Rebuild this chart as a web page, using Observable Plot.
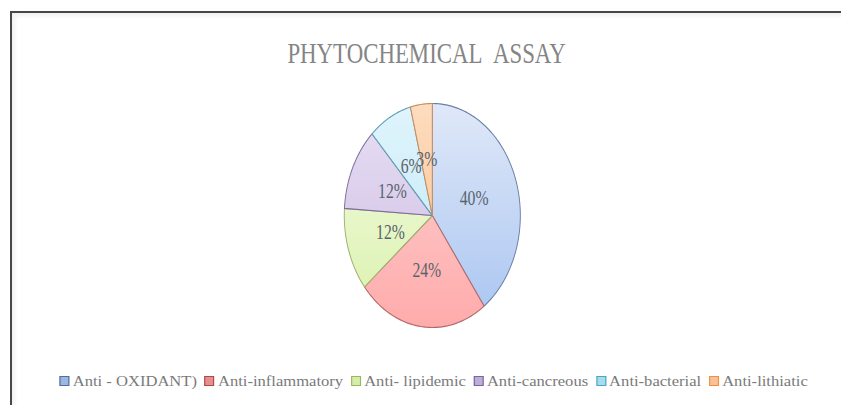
<!DOCTYPE html>
<html>
<head>
<meta charset="utf-8">
<script src="https://cdn.jsdelivr.net/npm/d3@7"></script>
<script src="https://cdn.jsdelivr.net/npm/@observablehq/plot@0.6"></script>
<style>
  html, body { margin: 0; padding: 0; background: #fff; }
  #frame { position: relative; width: 841px; height: 405px; overflow: hidden; background: #fff; }
  #border { position: absolute; left: 10px; top: 11px; width: 840px; height: 400px;
            border-top: 2px solid #474747; border-left: 2px solid #474747;
            box-shadow: inset 3px 3px 4px rgba(0,0,0,0.06); }
  #wrap { position: absolute; left: 0; top: 0; width: 1070px; height: 405px;
          transform: scaleX(0.786); transform-origin: 0 0; }
  #wrap svg { position: absolute; left: 0; top: 0; }
  #title { position: absolute; top: 38px; left: 0; width: 1086px; text-align: center;
           font-family: "Liberation Serif", serif; font-size: 30px; line-height: 30px; color: #858585; }
  #title span { display: inline-block; transform-origin: 50% 50%; word-spacing: 9px; }
  #legend { position: absolute; top: 372px; left: 0; width: 1104px; text-align: center; }
  #legend .inner { display: inline-flex; align-items: center; gap: 7px; transform-origin: 50% 50%;
                   font-family: "Liberation Serif", serif; font-size: 15px; line-height: 16px; color: #7a7a7a; white-space: nowrap; }
  #legend .item { display: inline-flex; align-items: center; gap: 3px; }
  #legend .sw { display: inline-block; width: 7px; height: 8px; border: 1.5px solid; }
</style>
</head>
<body>
<div id="frame">
  <div id="border"></div>
  <div id="wrap">
    <div id="title"><span>PHYTOCHEMICAL ASSAY</span></div>
    <div id="legend"><div class="inner"></div></div>
  </div>
</div>
<script>
// ---- data ----
const categories = ["Anti - OXIDANT)", "Anti-inflammatory", "Anti- lipidemic", "Anti-cancreous", "Anti-bacterial", "Anti-lithiatic"];
const shares = [40, 24, 12, 12, 8, 4];
const labels = ["40%", "24%", "12%", "12%", "6%", "3%"];

// ---- styles ----
const topColors    = ["#dfe8f8", "#fdd3d3", "#f4fae2", "#e8dff3", "#e0f4fb", "#fddcbf"];
const bottomColors = ["#a9c5f1", "#ffabab", "#daf2ad", "#cbbbe4", "#bce7f7", "#fbbd8b"];
const strokeColors = ["#6a7fa6", "#b36a6a", "#9fb06e", "#7f6c9c", "#5fa3b8", "#c98c58"];
const swatchFill   = ["#9db8df", "#e58f8f", "#d6ecaa", "#bcaed8", "#a7dcee", "#f8c196"];
const swatchStroke = ["#4f6f9f", "#b04a48", "#9ab85a", "#7c64a0", "#48a8c4", "#f09040"];

const cx = 549.5, cy = 215, r = 112;
const W = 1070, H = 405;

// ---- slices ----
const total = d3.sum(shares);
const slices = [];
let acc = 0;
categories.forEach((c, i) => {
  const a0 = acc / total * 2 * Math.PI;
  acc += shares[i];
  const a1 = acc / total * 2 * Math.PI;
  slices.push({cat: c, i, a0, a1, mid: (a0 + a1) / 2, label: labels[i]});
});

// outline points of each wedge (center -> arc -> center)
const pts = [];
for (const s of slices) {
  pts.push({cat: s.cat, i: s.i, x: 0, y: 0});
  const n = Math.max(2, Math.ceil((s.a1 - s.a0) / (Math.PI / 180)));
  for (let k = 0; k <= n; k++) {
    const a = s.a0 + (s.a1 - s.a0) * k / n;
    pts.push({cat: s.cat, i: s.i, x: Math.sin(a), y: Math.cos(a)});
  }
  pts.push({cat: s.cat, i: s.i, x: 0, y: 0});
}

const labelR = 0.5;
const plot = Plot.plot({
  width: W,
  height: H,
  margin: 0,
  style: {background: "transparent", overflow: "visible"},
  x: {domain: [-1, 1], range: [cx - r, cx + r], axis: null},
  y: {domain: [-1, 1], range: [cy + r, cy - r], axis: null},
  color: {type: "identity"},
  marks: [
    Plot.line(pts, {
      x: "x", y: "y", z: "cat",
      fill: d => `url(#grad${d.i})`,
      stroke: d => strokeColors[d.i],
      strokeWidth: 1.2,
      strokeLinejoin: "round",
      curve: "linear"
    }),
    Plot.text(slices, {
      x: d => labelR * Math.sin(d.mid),
      y: d => labelR * Math.cos(d.mid),
      text: "label",
      fontFamily: "Liberation Serif",
      fontSize: 20,
      fill: "#5a636d"
    })
  ]
});

// gradients
const defs = d3.select(plot).insert("defs", ":first-child");
slices.forEach(s => {
  const g = defs.append("linearGradient")
    .attr("id", `grad${s.i}`)
    .attr("gradientUnits", "userSpaceOnUse")
    .attr("x1", 0).attr("x2", 0)
    .attr("y1", cy - r).attr("y2", cy + r);
  g.append("stop").attr("offset", "0%").attr("stop-color", topColors[s.i]);
  g.append("stop").attr("offset", "100%").attr("stop-color", bottomColors[s.i]);
});

document.getElementById("wrap").insertBefore(plot, document.getElementById("title"));

// legend
const inner = d3.select("#legend .inner");
categories.forEach((c, i) => {
  const it = inner.append("span").attr("class", "item");
  it.append("span").attr("class", "sw")
    .style("background", swatchFill[i]).style("border-color", swatchStroke[i]);
  it.append("span").text(c);
});

// fit widths (in unscaled wrapper coordinates)
const scaleK = 0.786;
const t = document.querySelector("#title span");
t.style.transform = `scaleX(${(278 / scaleK) / t.offsetWidth})`;
const lg = document.querySelector("#legend .inner");
lg.style.transform = `scaleX(${(748 / scaleK) / lg.offsetWidth})`;
</script>
</body>
</html>
